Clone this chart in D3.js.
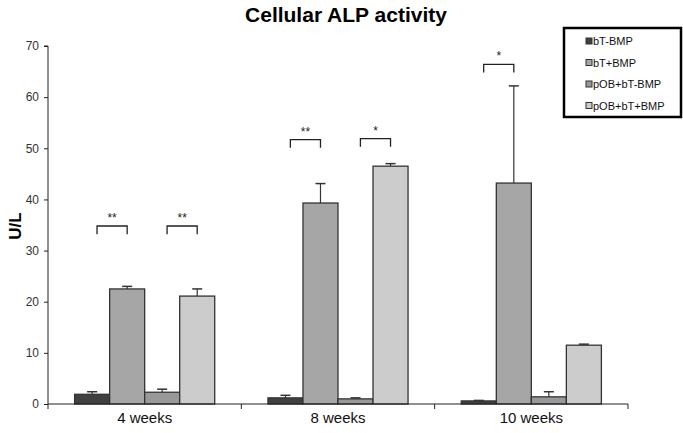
<!DOCTYPE html>
<html><head><meta charset="utf-8">
<script src="https://cdn.jsdelivr.net/npm/d3@7"></script>
<style>body{margin:0;background:#fff}svg{display:block}text{font-family:"Liberation Sans",Arial,sans-serif}</style>
</head><body><svg id="c" width="683" height="433"></svg>
<script>
const categories = ["4 weeks", "8 weeks", "10 weeks"];
const seriesNames = ["bT-BMP", "bT+BMP", "pOB+bT-BMP", "pOB+bT+BMP"];
const seriesColors = ["#404040", "#a6a6a6", "#999999", "#cccccc"];
const means = [
  [1.9, 22.5, 2.3, 21.1],
  [1.2, 39.3, 1.0, 46.5],
  [0.6, 43.2, 1.4, 11.5]
];
const errors = [
  [0.5, 0.5, 0.6, 1.4],
  [0.5, 3.8, 0.2, 0.5],
  [0.1, 19.0, 1.0, 0.2]
];
const yTicks = [0, 10, 20, 30, 40, 50, 60, 70];
// significance brackets: [category index, left bar, right bar, top value, leg value, label]
const brackets = [
  [0, 0, 1, 34.8, 33.2, "**"],
  [0, 2, 3, 34.8, 33.2, "**"],
  [1, 0, 1, 51.7, 50.1, "**"],
  [1, 2, 3, 51.9, 50.3, "*"],
  [2, 0, 1, 66.4, 64.8, "*"]
];

const svg = d3.select("#c");
const m = {l: 48, r: 55, t: 46, b: 29};
const W = 683, H = 433;
const x0 = d3.scaleBand().domain(categories).range([m.l, W - m.r]).paddingInner(0).paddingOuter(0);
const x1 = d3.scaleBand().domain(d3.range(4)).range([0, x0.bandwidth()]).paddingInner(0).paddingOuter(0.76);
const y = d3.scaleLinear().domain([0, 70]).range([H - m.b, m.t]);

// title
svg.append("text").attr("x", 346).attr("y", 22).attr("text-anchor", "middle")
  .style("font-size", "21px").style("font-weight", "bold").text("Cellular ALP activity");
// y label
svg.append("text").attr("transform", "translate(21,226) rotate(-90)").attr("text-anchor", "middle")
  .style("font-size", "17px").style("font-weight", "bold").text("U/L");

// bars
const g = svg.append("g");
categories.forEach((c, ci) => {
  seriesNames.forEach((s, si) => {
    const bx = x0(c) + x1(si);
    const bw = x1.bandwidth();
    const cx = bx + bw / 2;
    g.append("line").attr("x1", cx).attr("x2", cx).attr("y1", y(means[ci][si])).attr("y2", y(means[ci][si] + errors[ci][si]))
      .attr("stroke", "#333").attr("stroke-width", 1.2);
    g.append("line").attr("x1", cx - 5).attr("x2", cx + 5).attr("y1", y(means[ci][si] + errors[ci][si])).attr("y2", y(means[ci][si] + errors[ci][si]))
      .attr("stroke", "#333").attr("stroke-width", 1.5);
    g.append("rect").attr("x", bx).attr("y", y(means[ci][si])).attr("width", bw)
      .attr("height", y(0) - y(means[ci][si])).attr("fill", seriesColors[si])
      .attr("stroke", "#333").attr("stroke-width", 1.3);
  });
});

// brackets
brackets.forEach(([ci, a, b, top, leg, lab]) => {
  const c = categories[ci];
  const bw = x1.bandwidth();
  const xa = x0(c) + x1(a) + bw * 0.64;
  const xb = x0(c) + x1(b) + bw * 0.5;
  svg.append("path").attr("d", `M${xa},${y(leg)}V${y(top)}H${xb}V${y(leg)}`)
    .attr("fill", "none").attr("stroke", "#222").attr("stroke-width", 1.3);
  svg.append("text").attr("x", (xa + xb) / 2).attr("y", y(top) - 4).attr("text-anchor", "middle")
    .style("font-size", "12px").attr("fill", "#222").text(lab);
});

// axes
const yAxis = d3.axisLeft(y).tickValues(yTicks).tickSize(4).tickPadding(5);
const ya = svg.append("g").attr("transform", `translate(${m.l},0)`).call(yAxis);
ya.select(".domain").attr("stroke", "#222").attr("d", `M-4,${y(70)}H0V${y(0)}`);
ya.selectAll("text").style("font-size", "12px").style("font-family", '"Liberation Sans",Arial,sans-serif').attr("fill", "#333");
ya.selectAll("line").attr("stroke", "#222");

const xa = svg.append("g").attr("transform", `translate(0,${y(0)})`);
xa.append("line").attr("x1", m.l).attr("x2", W - m.r).attr("stroke", "#222").attr("stroke-width", 1.2);
const bounds = categories.map(c => x0(c)).concat([x0(categories[2]) + x0.bandwidth()]);
bounds.forEach(b => xa.append("line").attr("x1", b).attr("x2", b).attr("y1", 0).attr("y2", 5).attr("stroke", "#222"));
categories.forEach(c => xa.append("text").attr("x", x0(c) + x0.bandwidth() / 2).attr("y", 19)
  .attr("text-anchor", "middle").style("font-size", "15px").attr("fill", "#111").text(c));

// legend
const lg = svg.append("g").attr("transform", "translate(564,28)");
lg.append("rect").attr("x", 0).attr("y", 0).attr("width", 117).attr("height", 89)
  .attr("fill", "#fff").attr("stroke", "#000").attr("stroke-width", 2.5);
seriesNames.forEach((s, i) => {
  const yy = 14 + i * 21.5;
  lg.append("rect").attr("x", 22).attr("y", yy - 4).attr("width", 6).attr("height", 6)
    .attr("fill", seriesColors[i]).attr("stroke", "#333").attr("stroke-width", 1);
  lg.append("text").attr("x", 29).attr("y", yy + 3).style("font-size", "11px").attr("fill", "#111").text(s);
});
</script></body></html>
